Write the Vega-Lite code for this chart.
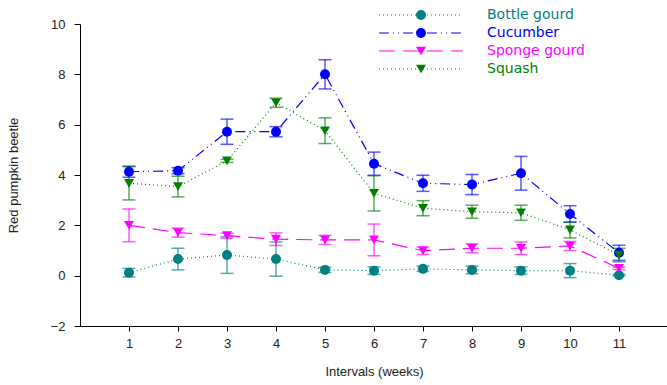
{
  "$schema": "https://vega.github.io/schema/vega-lite/v6.json",
  "width": 588,
  "height": 302,
  "autosize": {"type": "none"},
  "padding": {"left": 80, "top": 24, "right": 0, "bottom": 59},
  "background": "white",
  "config": {
    "view": {"stroke": null},
    "font": "Liberation Sans",
    "axis": {
      "grid": false,
      "domainColor": "black",
      "tickColor": "black",
      "labelColor": "#222",
      "titleColor": "#222",
      "labelFontSize": 13,
      "titleFontSize": 13,
      "titleFontWeight": "normal",
      "labelFont": "Liberation Sans",
      "titleFont": "Liberation Sans"
    }
  },
  "data": {
    "values": [
      {"series": "Bottle gourd", "week": 1, "mean": 0.12, "err": 0.17},
      {"series": "Bottle gourd", "week": 2, "mean": 0.66, "err": 0.43},
      {"series": "Bottle gourd", "week": 3, "mean": 0.82, "err": 0.73},
      {"series": "Bottle gourd", "week": 4, "mean": 0.66, "err": 0.68},
      {"series": "Bottle gourd", "week": 5, "mean": 0.23, "err": 0.1},
      {"series": "Bottle gourd", "week": 6, "mean": 0.2, "err": 0.15},
      {"series": "Bottle gourd", "week": 7, "mean": 0.27, "err": 0.1},
      {"series": "Bottle gourd", "week": 8, "mean": 0.23, "err": 0.15},
      {"series": "Bottle gourd", "week": 9, "mean": 0.2, "err": 0.15},
      {"series": "Bottle gourd", "week": 10, "mean": 0.2, "err": 0.28},
      {"series": "Bottle gourd", "week": 11, "mean": 0.02, "err": 0.03},
      {"series": "Cucumber", "week": 1, "mean": 4.13, "err": 0.22},
      {"series": "Cucumber", "week": 2, "mean": 4.17, "err": 0.12},
      {"series": "Cucumber", "week": 3, "mean": 5.72, "err": 0.5},
      {"series": "Cucumber", "week": 4, "mean": 5.72, "err": 0.2},
      {"series": "Cucumber", "week": 5, "mean": 8.0, "err": 0.58},
      {"series": "Cucumber", "week": 6, "mean": 4.45, "err": 0.46},
      {"series": "Cucumber", "week": 7, "mean": 3.67, "err": 0.32},
      {"series": "Cucumber", "week": 8, "mean": 3.62, "err": 0.4},
      {"series": "Cucumber", "week": 9, "mean": 4.07, "err": 0.67},
      {"series": "Cucumber", "week": 10, "mean": 2.45, "err": 0.33},
      {"series": "Cucumber", "week": 11, "mean": 0.91, "err": 0.3},
      {"series": "Sponge gourd", "week": 1, "mean": 2.0, "err": 0.65},
      {"series": "Sponge gourd", "week": 2, "mean": 1.71, "err": 0.18},
      {"series": "Sponge gourd", "week": 3, "mean": 1.59, "err": 0.1},
      {"series": "Sponge gourd", "week": 4, "mean": 1.45, "err": 0.25},
      {"series": "Sponge gourd", "week": 5, "mean": 1.42, "err": 0.18},
      {"series": "Sponge gourd", "week": 6, "mean": 1.42, "err": 0.63},
      {"series": "Sponge gourd", "week": 7, "mean": 0.99, "err": 0.15},
      {"series": "Sponge gourd", "week": 8, "mean": 1.09, "err": 0.18},
      {"series": "Sponge gourd", "week": 9, "mean": 1.09, "err": 0.25},
      {"series": "Sponge gourd", "week": 10, "mean": 1.18, "err": 0.18},
      {"series": "Sponge gourd", "week": 11, "mean": 0.29, "err": 0.05},
      {"series": "Squash", "week": 1, "mean": 3.67, "err": 0.66},
      {"series": "Squash", "week": 2, "mean": 3.54, "err": 0.41},
      {"series": "Squash", "week": 3, "mean": 4.56, "err": 0.06},
      {"series": "Squash", "week": 4, "mean": 6.87, "err": 0.18},
      {"series": "Squash", "week": 5, "mean": 5.76, "err": 0.51},
      {"series": "Squash", "week": 6, "mean": 3.27, "err": 0.7},
      {"series": "Squash", "week": 7, "mean": 2.68, "err": 0.3},
      {"series": "Squash", "week": 8, "mean": 2.54, "err": 0.26},
      {"series": "Squash", "week": 9, "mean": 2.5, "err": 0.3},
      {"series": "Squash", "week": 10, "mean": 1.82, "err": 0.32},
      {"series": "Squash", "week": 11, "mean": 0.82, "err": 0.27}
    ]
  },
  "encoding": {
    "x": {
      "field": "week",
      "type": "quantitative",
      "scale": {"domain": [0, 12], "nice": false, "zero": false},
      "axis": {
        "values": [1, 2, 3, 4, 5, 6, 7, 8, 9, 10, 11],
        "title": "Intervals (weeks)",
        "tickSize": 5,
        "labelPadding": 6,
        "titlePadding": 15
      }
    },
    "y": {
      "field": "mean",
      "type": "quantitative",
      "scale": {"domain": [-2, 10], "nice": false, "zero": false},
      "axis": {
        "values": [-2, 0, 2, 4, 6, 8, 10],
        "title": "Red pumpkin beetle",
        "tickSize": 6,
        "labelPadding": 9,
        "titlePadding": 30
      }
    }
  },
  "layer": [
    {
      "mark": {"type": "errorbar", "ticks": {"size": 13}, "thickness": 1.5, "opacity": 0.65},
      "encoding": {
        "yError": {"field": "err"},
        "color": {
          "field": "series",
          "type": "nominal",
          "scale": {"domain": ["Bottle gourd", "Cucumber", "Sponge gourd", "Squash"], "range": ["#008080", "#0000FF", "#FF00FF", "#008000"]},
          "legend": null
        }
      }
    },
    {
      "mark": {"type": "line", "strokeWidth": 1.2},
      "encoding": {
        "color": {
          "field": "series",
          "type": "nominal",
          "scale": {"domain": ["Bottle gourd", "Cucumber", "Sponge gourd", "Squash"], "range": ["#008080", "#0000FF", "#FF00FF", "#008000"]},
          "legend": {
            "orient": "none",
            "legendX": 334,
            "legendY": -16,
            "title": null,
            "padding": 0,
            "symbolType": "M-7,0L7,0",
            "symbolSize": 144,
            "symbolStrokeWidth": 1.2,
            "symbolFillColor": "transparent",
            "labelFontSize": 14,
            "labelFont": "DejaVu Sans",
            "labelOffset": 59,
            "rowPadding": 4,
            "encode": {"labels": {"update": {"fill": {"scale": "color", "field": "value"}}}}
          }
        },
        "strokeDash": {
          "field": "series",
          "type": "nominal",
          "scale": {"domain": ["Bottle gourd", "Cucumber", "Sponge gourd", "Squash"], "range": [[1, 3], [10, 4, 1, 4, 1, 4], [16, 8], [1, 3]]},
          "legend": {
            "orient": "none",
            "legendX": 334,
            "legendY": -16,
            "title": null,
            "padding": 0,
            "symbolType": "M-7,0L7,0",
            "symbolSize": 144,
            "symbolStrokeWidth": 1.2,
            "symbolFillColor": "transparent",
            "labelFontSize": 14,
            "labelFont": "DejaVu Sans",
            "labelOffset": 59,
            "rowPadding": 4,
            "encode": {"labels": {"update": {"fill": {"scale": "color", "field": "value"}}}}
          }
        }
      }
    },
    {
      "mark": {"type": "point", "filled": true, "opacity": 1, "size": 100},
      "encoding": {
        "color": {
          "field": "series",
          "type": "nominal",
          "scale": {"domain": ["Bottle gourd", "Cucumber", "Sponge gourd", "Squash"], "range": ["#008080", "#0000FF", "#FF00FF", "#008000"]},
          "legend": {
            "orient": "none",
            "legendX": 334,
            "legendY": -16,
            "title": null,
            "padding": 0,
            "symbolSize": 100,
            "symbolOpacity": 1,
            "labelExpr": "''",
            "labelFontSize": 14,
            "rowPadding": 2
          }
        },
        "shape": {
          "field": "series",
          "type": "nominal",
          "scale": {"domain": ["Bottle gourd", "Cucumber", "Sponge gourd", "Squash"], "range": ["circle", "circle", "triangle-down", "triangle-down"]},
          "legend": {
            "orient": "none",
            "legendX": 334,
            "legendY": -16,
            "title": null,
            "padding": 0,
            "symbolSize": 100,
            "symbolOpacity": 1,
            "labelExpr": "''",
            "labelFontSize": 14,
            "rowPadding": 2
          }
        }
      }
    }
  ],
  "resolve": {"legend": {"color": "independent", "shape": "independent", "strokeDash": "independent"}}
}
